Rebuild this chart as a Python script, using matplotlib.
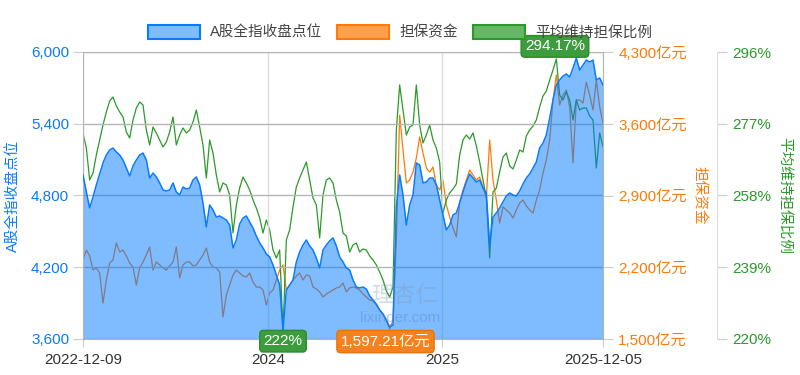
import numpy as np
import pandas as pd
import matplotlib
matplotlib.use('Agg')
import matplotlib.pyplot as plt
import matplotlib.dates as mdates
from matplotlib.patches import Patch
from matplotlib.ticker import FuncFormatter

plt.rcParams['font.family'] = ['Liberation Sans', 'Noto Sans CJK SC', 'DejaVu Sans']

# 周度数据 2022-12-09 ~ 2025-12-05
dates = pd.date_range('2022-12-09', '2025-12-05', freq='7D')

# A股全指收盘点位
index_close = [
    4972, 4829, 4696, 4788, 4888, 4980, 5072, 5139, 5181, 5197,
    5164, 5139, 5097, 5030, 4963, 5047, 5097, 5139, 5155, 5097,
    4946, 4988, 4955, 4905, 4846, 4838, 4846, 4905, 4829, 4804,
    4871, 4854, 4863, 4930, 4955, 4888, 4737, 4537, 4721, 4679,
    4620, 4629, 4612, 4595, 4553, 4361, 4428, 4562, 4612, 4629,
    4578, 4528, 4461, 4403, 4361, 4311, 4286, 4219, 4135, 4052,
    3675, 4010, 4052, 4093, 4244, 4328, 4386, 4428, 4378, 4344,
    4277, 4194, 4344, 4386, 4420, 4445, 4378, 4286, 4244, 4194,
    4177, 4093, 4035, 4027, 4035, 4018, 3960, 3926, 3893, 3843,
    3809, 3759, 3700, 3717, 4704, 4972, 4804, 4553, 4721, 4804,
    5072, 5055, 4905, 4913, 4946, 4946, 4888, 4762, 4637, 4512,
    4553, 4637, 4654, 4737, 4829, 4913, 4980, 4946, 4913, 4930,
    4863, 4821, 4386, 4620, 4654, 4696, 4746, 4796, 4821, 4804,
    4796, 4838, 4896, 4946, 4980, 5030, 5080, 5197, 5239, 5306,
    5448, 5599, 5724, 5766, 5799, 5816, 5791, 5866, 5950, 5849,
    5891, 5933, 5916, 5933, 5766, 5783, 5724,
]

# 担保资金（亿元）
margin_fund = [
    2271, 2368, 2310, 2173, 2193, 2144, 1851, 2076, 2241, 2271,
    2437, 2349, 2368, 2310, 2241, 2202, 2027, 2193, 2251, 2320,
    2398, 2173, 2251, 2222, 2193, 2173, 2212, 2251, 2398, 2095,
    2222, 2251, 2251, 2212, 2222, 2271, 2320, 2388, 2251, 2202,
    2193, 2154, 1715, 1929, 2027, 2124, 2173, 2144, 2115, 2105,
    2144, 2056, 2007, 2007, 1978, 1832, 1949, 1978, 2076, 2173,
    2222, 1978, 2027, 2076, 2115, 2144, 2076, 2124, 2115, 2007,
    1988, 1959, 1910, 1939, 1959, 1978, 1998, 2007, 2046, 1959,
    1998, 2007, 1998, 1978, 1939, 1910, 1880, 1871, 1832, 1783,
    1744, 1685, 1597.21, 1685, 2466, 3685, 3344, 3022, 3051, 3129,
    3266, 3471, 3315, 3168, 3129, 3178, 3002, 2954, 3051, 2807,
    2690, 2583, 2495, 2837, 2954, 3051, 3149, 3100, 3051, 3080,
    2983, 2876, 3441, 3051, 2856, 2632, 2788, 2759, 2729, 2680,
    2759, 2827, 2856, 2798, 2759, 2729, 2856, 2954, 3120, 3246,
    3441, 3832, 4076, 3783, 3880, 3929, 3763, 3217, 3832, 3832,
    3802, 4007, 3880, 3734, 4027, 3763, 3607,
]

# 平均维持担保比例（%）
maint_ratio = [
    274.55, 270.58, 262.11, 263.96, 268.73, 272.70, 276.67, 280.11, 283.02, 284.08,
    281.70, 280.11, 278.79, 274.82, 273.23, 277.99, 281.17, 282.76, 281.97, 275.35,
    271.37, 276.14, 274.55, 272.70, 270.84, 272.17, 274.82, 278.79, 271.37, 274.02,
    275.88, 274.55, 275.35, 277.46, 280.64, 276.14, 271.37, 262.64, 272.70, 269.26,
    263.43, 258.93, 261.31, 260.78, 258.13, 248.07, 255.49, 259.99, 262.90, 261.31,
    259.46, 256.81, 254.69, 252.04, 248.07, 251.51, 248.87, 243.57, 241.45, 243.57,
    222.00, 246.22, 248.87, 254.96, 260.25, 262.64, 264.75, 266.87, 262.11, 257.34,
    255.49, 246.75, 258.13, 262.11, 262.64, 261.31, 256.81, 253.63, 248.07, 247.28,
    243.04, 244.89, 245.42, 243.04, 243.83, 243.57, 241.98, 240.92, 239.60, 237.74,
    235.63, 232.71, 231.12, 233.77, 275.35, 287.26, 280.64, 274.02, 276.14, 276.67,
    287.26, 276.67, 271.90, 274.02, 276.67, 272.70, 270.58, 266.87, 253.37, 256.81,
    258.66, 259.72, 261.05, 268.73, 272.70, 274.02, 272.96, 274.55, 271.11, 266.87,
    262.11, 257.34, 241.45, 258.93, 259.99, 264.22, 268.20, 269.26, 265.81, 265.02,
    267.40, 270.05, 269.52, 273.76, 275.35, 276.40, 277.99, 281.44, 284.35, 285.67,
    288.59, 291.23, 294.17, 284.61, 283.29, 285.41, 283.29, 277.99, 283.29, 280.64,
    281.17, 281.17, 279.05, 277.99, 265.28, 274.55, 270.84,
]

x_ticks = ['2022-12-09', '2024-01-01', '2025-01-01', '2025-12-05']
x_labels = ['2022-12-09', '2024', '2025', '2025-12-05']

labels = ['A股全指收盘点位', '担保资金', '平均维持担保比例']

BLUE = '#0a7aff'
ORANGE = '#ff7a0a'
GREEN = '#2a9a2a'
GREY = '#b5b5b5'

fig = plt.figure(figsize=(8, 3.75), dpi=100)
ax = fig.add_axes([83 / 800, 36 / 375, 520 / 800, 287 / 375])
ax_fund = ax.twinx()
ax_ratio = ax.twinx()

# 蓝色面积在最上层，橙线/绿线从半透明面积下透出
ax.set_zorder(3)
ax_ratio.set_zorder(2)
ax_fund.set_zorder(1)
for a in (ax, ax_fund, ax_ratio):
    a.patch.set_visible(False)

ax_fund.plot(dates, margin_fund, color=ORANGE, lw=0.9)
ax_ratio.plot(dates, maint_ratio, color=GREEN, lw=0.9)

ax.set_ylim(3600, 6000)
ax.fill_between(dates, 3600, index_close, color='#007aff', alpha=0.5, lw=0, zorder=2)
ax.plot(dates, index_close, color=BLUE, lw=1.1, zorder=3)

ax_fund.set_ylim(1500, 4300)
ax_ratio.set_ylim(220, 296)
ax.set_xlim(dates[0], dates[-1])

ax.set_yticks(np.arange(3600, 6001, 600))
ax_fund.set_yticks(np.arange(1500, 4301, 700))
ax_ratio.set_yticks(np.arange(220, 297, 19))
ax.yaxis.set_major_formatter(FuncFormatter(lambda v, p: f'{v:,.0f}'))
ax_fund.yaxis.set_major_formatter(FuncFormatter(lambda v, p: f'{v:,.0f}亿元'))
ax_ratio.yaxis.set_major_formatter(FuncFormatter(lambda v, p: f'{v:.0f}%'))

ax.set_xticks(pd.to_datetime(x_ticks))
ax.set_xticklabels(x_labels)

ax.grid(axis='y', color=GREY, lw=1, zorder=1)
ax.grid(axis='x', color='#dddddd', lw=1, zorder=1)
ax.set_axisbelow(True)

for s in ax.spines.values():
    s.set_color(GREY)
for s in ax_fund.spines.values():
    s.set_visible(False)
for name, s in ax_ratio.spines.items():
    s.set_visible(name == 'right')
ax_ratio.spines['right'].set_position(('axes', 1 + 114 / 520))
ax_ratio.spines['right'].set_color('#dddddd')

ax.tick_params(axis='y', colors='#cccccc', labelcolor=BLUE, labelsize=11, length=7, pad=3)
ax.tick_params(axis='x', colors='#cccccc', labelcolor='#333333', labelsize=11, length=6, pad=4)
ax_fund.tick_params(axis='y', colors='#cccccc', labelcolor=ORANGE, labelsize=11, length=7, pad=4)
ax_ratio.tick_params(axis='y', colors='#cccccc', labelcolor=GREEN, labelsize=11, length=7, pad=4)

ax.set_ylabel(labels[0], color=BLUE, fontsize=10.5, va='center')
ax.yaxis.set_label_coords(-(83 - 14) / 520, 0.5)
ax_fund.set_ylabel(labels[1], color=ORANGE, fontsize=10.5, rotation=270, va='center')
ax_fund.yaxis.set_label_coords((699 - 83) / 520, 0.5)
ax_ratio.set_ylabel(labels[2], color=GREEN, fontsize=10.5, rotation=270, va='center')
ax_ratio.yaxis.set_label_coords((785 - 83) / 520, 0.5)

handles = [
    Patch(facecolor='#80bdff', edgecolor=BLUE, lw=1.5),
    Patch(facecolor='#ffa04c', edgecolor=ORANGE, lw=1.5),
    Patch(facecolor='#66b866', edgecolor=GREEN, lw=1.5),
]
fig.legend(handles, labels, loc='center', bbox_to_anchor=(0.5, 1 - 32 / 375), ncol=3,
           frameon=False, fontsize=10.5, handlelength=3.6, handleheight=1.1,
           handletextpad=0.7, columnspacing=1.0, labelcolor='#444444')

# 最值标注
xnum = mdates.date2num(dates)
i_max = int(np.argmax(maint_ratio))
i_min = int(np.argmin(maint_ratio))
i_fmin = int(np.argmin(margin_fund))
ax.annotate(f'{maint_ratio[i_max]:g}%', xy=(xnum[i_max], maint_ratio[i_max]),
            xycoords=ax_ratio.transData, xytext=(-1, 9), textcoords='offset points',
            ha='center', va='center', color='white', fontsize=11, annotation_clip=False,
            bbox=dict(boxstyle='round,pad=0.25', fc='#3d9c3d', ec='#2e8b2e'), zorder=10)
ax.annotate(f'{maint_ratio[i_min]:g}%', xy=(xnum[i_min], maint_ratio[i_min]),
            xycoords=ax_ratio.transData, xytext=(0, -7), textcoords='offset points',
            ha='center', va='center', color='white', fontsize=11, annotation_clip=False,
            bbox=dict(boxstyle='round,pad=0.25', fc='#3d9c3d', ec='#2e8b2e'), zorder=10)
ax.annotate(f'{margin_fund[i_fmin]:,.2f}亿元', xy=(xnum[i_fmin], margin_fund[i_fmin]),
            xycoords=ax_fund.transData, xytext=(-3, -9), textcoords='offset points',
            ha='center', va='center', color='white', fontsize=11, annotation_clip=False,
            bbox=dict(boxstyle='round,pad=0.25', fc='#f5821f', ec='#e8740f'), zorder=10)

# 水印
fig.text(405 / 800, 1 - 296 / 375, '理杏仁', fontsize=16, color='#7f95b0', alpha=0.35,
         ha='center', va='center')
fig.text(400 / 800, 1 - 318 / 375, 'lixinger.com', fontsize=11, color='#5f86c0', alpha=0.45,
         ha='center', va='center')

fig.savefig('out.png', dpi=100, facecolor='white')
